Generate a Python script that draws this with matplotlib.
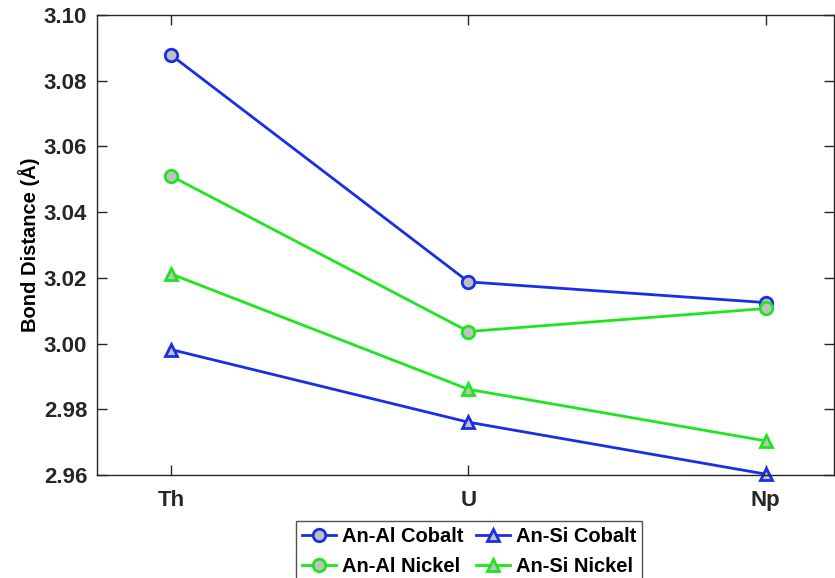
import matplotlib.pyplot as plt
import numpy as np

plt.rcParams['font.family'] = ['Liberation Sans', 'DejaVu Sans']
plt.rcParams['font.weight'] = 'bold'

actinides = ['Th', 'U', 'Np']
al_cobalt = [3.0878, 3.0188, 3.0125]
al_nickel = [3.0510, 3.0037, 3.0107]
si_cobalt = [2.9982, 2.9761, 2.9603]
si_nickel = [3.0212, 2.9861, 2.9704]

blue = '#1a2ee6'
green = '#1ee61e'
face = '#c0c0c0'

fig = plt.figure(figsize=(8.35, 5.78), dpi=100)
ax = fig.add_axes([0.116, 0.178, 0.883, 0.796])

x = np.arange(len(actinides))
style = dict(ms=9, mew=2, lw=2, mfc=face)
h1, = ax.plot(x, al_cobalt, '-o', color=blue, mec=blue, label='An-Al Cobalt', **style)
h2, = ax.plot(x, al_nickel, '-o', color=green, mec=green, label='An-Al Nickel', **style)
h3, = ax.plot(x, si_cobalt, '-^', color=blue, mec=blue, label='An-Si Cobalt', **style)
h4, = ax.plot(x, si_nickel, '-^', color=green, mec=green, label='An-Si Nickel', **style)
for h in (h1, h2, h3, h4):
    h.set_clip_on(False)

ax.set_xlim(-0.25, 2.23)
ax.set_ylim(2.96, 3.10)
ax.set_xticks(x)
ax.set_xticklabels(actinides)
yt = np.arange(2.96, 3.101, 0.02)
ax.set_yticks(yt)
ax.set_yticklabels(['%.2f' % v for v in yt])
ax.tick_params(direction='in', length=7, width=1, colors='#262626', labelsize=16,
               top=True, right=True, pad=7)
ax.tick_params(axis='x', pad=11)
for lab in ax.get_xticklabels() + ax.get_yticklabels():
    lab.set_fontweight('bold')
for s in ax.spines.values():
    s.set_color('#262626')
    s.set_linewidth(1)
ax.set_ylabel('Bond Distance (Å)', fontsize=14.5, fontweight='bold', labelpad=3)

leg = fig.legend(handles=[h1, h2, h3, h4], ncol=2, loc='upper center',
                 bbox_to_anchor=(0.562, 0.099), borderaxespad=0, fontsize=14.5,
                 frameon=True, fancybox=False, edgecolor='#262626', handlelength=1.7,
                 handletextpad=0.3, columnspacing=0.6, labelspacing=0.55,
                 borderpad=0.3)
leg.get_frame().set_linewidth(1)
for t in leg.get_texts():
    t.set_fontweight('bold')

fig.savefig('out.png', dpi=100)
